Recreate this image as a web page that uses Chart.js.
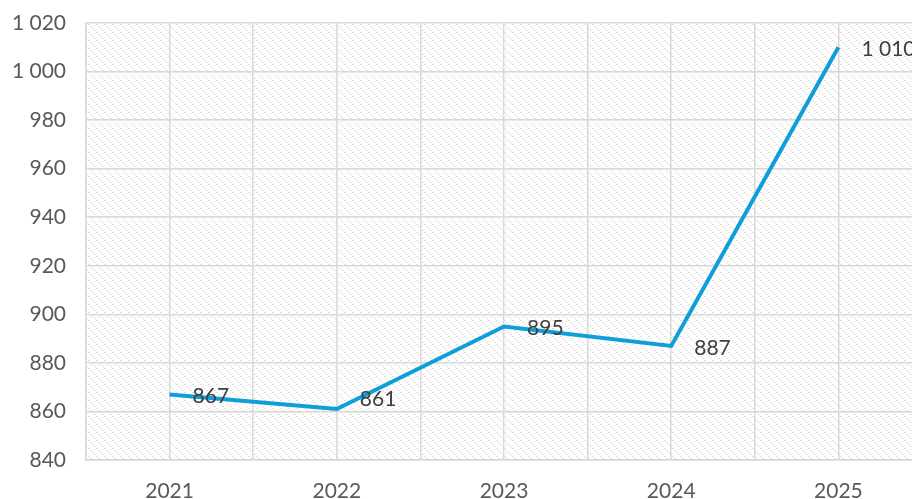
<!DOCTYPE html>
<html>
<head>
<meta charset="utf-8">
<script src="https://cdn.jsdelivr.net/npm/chart.js@4/dist/chart.umd.min.js"></script>
<style>
  html, body { margin: 0; padding: 0; background: #fff; overflow: hidden; }
  #wrap { width: 912px; height: 499px; }
</style>
</head>
<body>
<div id="wrap"><canvas id="lineChart"></canvas></div>
<script>
// Data
const years = ['2021', '2022', '2023', '2024', '2025'];
const values = [867, 861, 895, 887, 1010];
const yTicks = [840, 860, 880, 900, 920, 940, 960, 980, 1000, 1020];

const fmt = v => String(v).replace(/\B(?=(\d{3})+(?!\d))/g, ' ');
const fontFamily = 'Lato, "Open Sans", sans-serif';

// Hatched background pattern
function makePattern() {
    const c = document.createElement('canvas');
    c.width = 8; c.height = 8;
    const g = c.getContext('2d');
    g.fillStyle = '#ffffff';
    g.fillRect(0, 0, 8, 8);
    g.fillStyle = '#e0e0e0';
    for (let i = 0; i < 8; i += 2) {
        g.fillRect(i, i, 1, 1);
        g.fillRect((i + 1) % 8, i, 1, 1);
    }
    g.fillStyle = '#e8e8e8';
    g.fillRect(6, 1, 1, 1);
    g.fillRect(2, 5, 1, 1);
    return g.createPattern(c, 'repeat');
}

const areaBg = {
    id: 'areaBg',
    beforeDraw(chart) {
        const { ctx, chartArea: a } = chart;
        ctx.save();
        ctx.fillStyle = makePattern();
        ctx.fillRect(a.left, a.top, a.right - a.left, a.bottom - a.top);
        ctx.restore();
    }
};

const valueLabels = {
    id: 'valueLabels',
    afterDatasetsDraw(chart) {
        const { ctx } = chart;
        const meta = chart.getDatasetMeta(0);
        ctx.save();
        ctx.font = '21px ' + fontFamily;
        ctx.fillStyle = '#404040';
        ctx.textBaseline = 'middle';
        ctx.textAlign = 'left';
        meta.data.forEach((pt, i) => {
            const dy = (i === 1) ? -10 : 2;
            ctx.fillText(fmt(values[i]), pt.x + 23, pt.y + dy);
        });
        ctx.restore();
    }
};

const ctx = document.getElementById('lineChart').getContext('2d');
new Chart(ctx, {
    type: 'line',
    data: {
        datasets: [{
            data: values.map((v, i) => ({ x: i, y: v })),
            borderColor: '#0e9fd9',
            borderWidth: 4,
            pointRadius: 0,
            tension: 0,
            clip: false
        }]
    },
    options: {
        responsive: true,
        maintainAspectRatio: false,
        animation: false,
        layout: { padding: { top: 23, right: 0, left: 0, bottom: 0 } },
        plugins: { legend: { display: false }, tooltip: { enabled: false } },
        scales: {
            x: {
                type: 'linear',
                min: -0.5,
                max: 4.44,
                afterBuildTicks(axis) {
                    const t = [];
                    for (let v = -0.5; v <= 4.01; v += 0.5) t.push({ value: v });
                    axis.ticks = t;
                },
                afterFit(axis) {
                    axis.height = 39;
                    axis.paddingLeft = 0;
                    axis.paddingRight = 0;
                },
                grid: { color: '#d9d9d9', lineWidth: 1.5, drawTicks: false },
                border: { color: '#d9d9d9', width: 1.5 },
                ticks: {
                    color: '#595959',
                    font: { family: fontFamily, size: 21 },
                    padding: 19,
                    autoSkip: false,
                    maxRotation: 0,
                    callback: v => Number.isInteger(v) ? years[v] : ''
                }
            },
            y: {
                min: 840,
                max: 1020,
                afterBuildTicks(axis) {
                    axis.ticks = yTicks.map(v => ({ value: v }));
                },
                afterFit(axis) {
                    axis.width = 86;
                    axis.paddingTop = 0;
                    axis.paddingBottom = 0;
                },
                grid: { color: '#d9d9d9', lineWidth: 1.5, drawTicks: false },
                border: { color: '#d9d9d9', width: 1.5 },
                ticks: {
                    color: '#595959',
                    font: { family: fontFamily, size: 21 },
                    padding: 20,
                    callback: v => fmt(v)
                }
            }
        }
    },
    plugins: [areaBg, valueLabels]
});
</script>
</body>
</html>
